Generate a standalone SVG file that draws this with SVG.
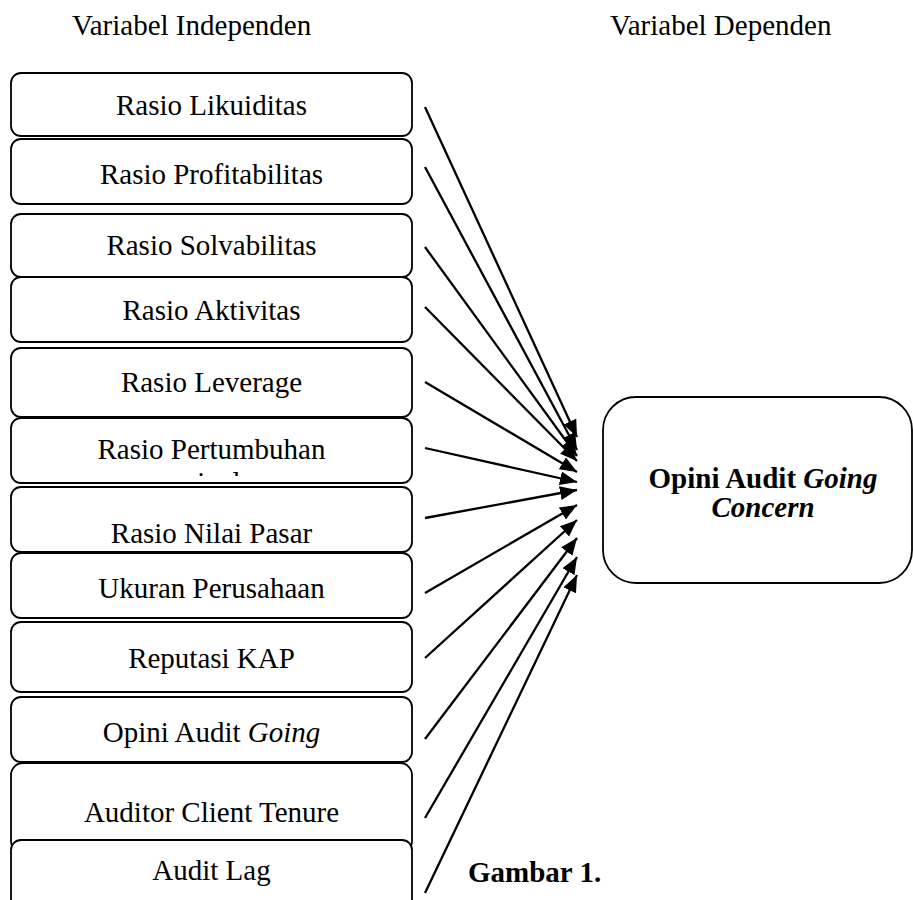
<svg xmlns="http://www.w3.org/2000/svg" width="913" height="900" viewBox="0 0 913 900">
<style>
.box{fill:#fff;stroke:#000;stroke-width:1.8}
.t{font-family:"Liberation Serif","Times New Roman",serif;font-size:29px;fill:#000;text-anchor:middle}
.h{font-family:"Liberation Serif","Times New Roman",serif;font-size:29px;fill:#000}
.b{font-weight:bold}
.i{font-style:italic}
.c line{stroke:#000;stroke-width:2.3;marker-end:url(#ah)}
</style>
<defs>
<marker id="ah" markerUnits="userSpaceOnUse" markerWidth="20" markerHeight="16" refX="17" refY="7" orient="auto">
<path d="M0,0 L17,7 L0,14 z" fill="#000"/>
</marker>
<clipPath id="clip6"><rect x="11" y="418" width="401" height="58"/></clipPath>
</defs>
<rect width="913" height="900" fill="#fff"/>
<text class="h" x="72" y="35">Variabel Independen</text>
<text class="h" x="610" y="35">Variabel Dependen</text>

<g id="n1"><rect class="box" x="11" y="73" width="401" height="63" rx="10"/><text class="t" x="211.5" y="115">Rasio Likuiditas</text></g>
<g id="n2"><rect class="box" x="11" y="139" width="401" height="65" rx="10"/><text class="t" x="211.5" y="184">Rasio Profitabilitas</text></g>
<g id="n3"><rect class="box" x="11" y="214" width="401" height="63" rx="10"/><text class="t" x="211.5" y="255">Rasio Solvabilitas</text></g>
<g id="n4"><rect class="box" x="11" y="277" width="401" height="65" rx="10"/><text class="t" x="211.5" y="320">Rasio Aktivitas</text></g>
<g id="n5"><rect class="box" x="11" y="348" width="401" height="69" rx="10"/><text class="t" x="211.5" y="392">Rasio Leverage</text></g>
<g id="n6"><rect class="box" x="11" y="418" width="401" height="65" rx="10"/><text class="t" x="211.5" y="459">Rasio Pertumbuhan</text><text class="t" x="211.5" y="492" clip-path="url(#clip6)">penjualan</text></g>
<g id="n7"><rect class="box" x="11" y="487" width="401" height="65" rx="10"/><text class="t" x="211.5" y="543">Rasio Nilai Pasar</text></g>
<g id="n8"><rect class="box" x="11" y="553" width="401" height="65" rx="10"/><text class="t" x="211.5" y="598">Ukuran Perusahaan</text></g>
<g id="n9"><rect class="box" x="11" y="622" width="401" height="70" rx="10"/><text class="t" x="211.5" y="668">Reputasi KAP</text></g>
<g id="n10"><rect class="box" x="11" y="697" width="401" height="65" rx="10"/><text class="t" x="211.5" y="742">Opini Audit <tspan class="i">Going</tspan></text></g>
<g id="n11"><rect class="box" x="11" y="763" width="401" height="90" rx="12"/><text class="t" x="211.5" y="822">Auditor Client Tenure</text></g>
<g id="n12"><rect class="box" x="11" y="840" width="401" height="75" rx="10"/><text class="t" x="211.5" y="880">Audit Lag</text></g>

<g id="target"><rect class="box" x="603" y="397" width="309" height="186" rx="33"/>
<text class="t b" x="763" y="488">Opini Audit <tspan class="i">Going</tspan></text>
<text class="t b i" x="763" y="517">Concern</text></g>

<g id="connectors" class="c">
<line x1="425" y1="107" x2="577" y2="437"/>
<line x1="425" y1="167" x2="577" y2="450"/>
<line x1="425" y1="247" x2="577" y2="456"/>
<line x1="425" y1="307" x2="577" y2="461"/>
<line x1="425" y1="382" x2="577" y2="472"/>
<line x1="425" y1="448" x2="577" y2="482"/>
<line x1="425" y1="518" x2="577" y2="490"/>
<line x1="425" y1="593" x2="577" y2="505"/>
<line x1="425" y1="658" x2="577" y2="520"/>
<line x1="425" y1="739" x2="577" y2="538"/>
<line x1="425" y1="818" x2="577" y2="557"/>
<line x1="425" y1="893" x2="577" y2="575"/>
</g>
<text class="h b" x="468" y="882">Gambar 1.</text>
</svg>
